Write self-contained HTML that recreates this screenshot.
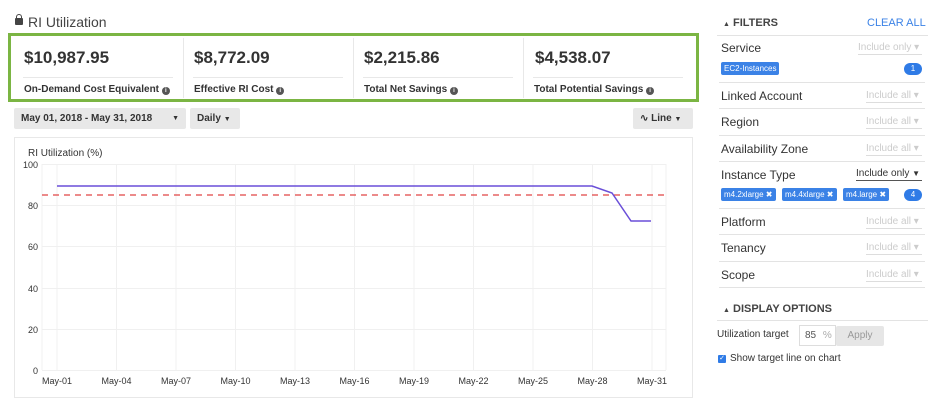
<!DOCTYPE html>
<html><head><meta charset="utf-8"><style>
*{box-sizing:border-box;margin:0;padding:0}
body{width:939px;height:404px;background:#fff;font-family:"Liberation Sans",Arial,sans-serif;color:#333;position:relative;overflow:hidden}
.a{position:absolute;white-space:nowrap}
.big{font-size:17px;font-weight:bold;color:#333}
.lbl{font-size:10px;font-weight:bold;color:#333}
.btn{position:absolute;background:#e8e8e8;border-radius:2px;font-size:10px;font-weight:bold;color:#333;height:21px;line-height:21px;padding:0 7px;white-space:nowrap}
.frow{position:absolute;left:719px;width:206px;border-bottom:1px solid #e3e3e3}
.fl{position:absolute;left:2px;font-size:12px;color:#333;white-space:nowrap}
.fr{position:absolute;right:3px;font-size:10px;color:#ccc;border-bottom:1px solid #ddd;width:56px;padding-bottom:1px;white-space:nowrap}
.tag{position:absolute;background:#3b82e6;color:#fff;font-size:8px;height:13px;line-height:13px;padding:0 3px;border-radius:2px;white-space:nowrap}
.cnt{position:absolute;background:#2f7be6;color:#fff;font-size:8px;width:18px;height:12px;line-height:12px;text-align:center;border-radius:6px}
.inf{display:inline-block;width:8px;height:8px;border-radius:50%;background:#555;color:#fff;font-size:6px;line-height:8px;text-align:center;vertical-align:0px}
</style></head><body>
<div class="a" style="left:15px;top:18px;width:8px;height:7px;background:#444;border-radius:1px"></div>
<div class="a" style="left:16px;top:14px;width:6px;height:6px;border:1.5px solid #444;border-bottom:none;border-radius:3px 3px 0 0"></div>
<div class="a" style="left:28px;top:14px;font-size:14px;color:#444">RI Utilization</div>
<div class="a" style="left:8px;top:33px;width:691px;height:69px;border:3px solid #7bb543"></div>
<div class="a" style="left:183px;top:38px;height:60px;border-left:1px solid #e8e8e8"></div>
<div class="a" style="left:353px;top:38px;height:60px;border-left:1px solid #e8e8e8"></div>
<div class="a" style="left:523px;top:38px;height:60px;border-left:1px solid #e8e8e8"></div>
<div class="a big" style="left:24px;top:48px">$10,987.95</div>
<div class="a big" style="left:194px;top:48px">$8,772.09</div>
<div class="a big" style="left:364px;top:48px">$2,215.86</div>
<div class="a big" style="left:535px;top:48px">$4,538.07</div>
<div class="a" style="left:23px;top:77px;width:150px;border-top:1px solid #e8e8e8"></div>
<div class="a" style="left:193px;top:77px;width:150px;border-top:1px solid #e8e8e8"></div>
<div class="a" style="left:363px;top:77px;width:150px;border-top:1px solid #e8e8e8"></div>
<div class="a" style="left:533px;top:77px;width:150px;border-top:1px solid #e8e8e8"></div>
<div class="a lbl" style="left:24px;top:84px">On-Demand Cost Equivalent <span class="inf">i</span></div>
<div class="a lbl" style="left:194px;top:84px">Effective RI Cost <span class="inf">i</span></div>
<div class="a lbl" style="left:364px;top:84px">Total Net Savings <span class="inf">i</span></div>
<div class="a lbl" style="left:534px;top:84px">Total Potential Savings <span class="inf">i</span></div>
<div class="btn" style="left:14px;top:108px;width:172px">May 01, 2018 - May 31, 2018<span style="position:absolute;right:7px;font-size:7px">&#9660;</span></div>
<div class="btn" style="left:190px;top:108px;width:50px">Daily <span style="font-size:7px">&#9660;</span></div>
<div class="btn" style="left:633px;top:108px;width:60px">&#8767; Line <span style="font-size:7px">&#9660;</span></div>
<div class="a" style="left:14px;top:137px;width:679px;height:261px;border:1px solid #e8e8e8"></div>
<svg class="a" style="left:0;top:0" width="700" height="404">
<g stroke="#f0f0f0" stroke-width="1">
<line x1="42" y1="164.5" x2="666" y2="164.5"/><line x1="42" y1="205.5" x2="666" y2="205.5"/><line x1="42" y1="246.5" x2="666" y2="246.5"/><line x1="42" y1="288.5" x2="666" y2="288.5"/><line x1="42" y1="329.5" x2="666" y2="329.5"/><line x1="42" y1="370.5" x2="666" y2="370.5"/>
<line x1="57" y1="164" x2="57" y2="370"/><line x1="116.5" y1="164" x2="116.5" y2="370"/><line x1="176" y1="164" x2="176" y2="370"/><line x1="235.5" y1="164" x2="235.5" y2="370"/><line x1="295" y1="164" x2="295" y2="370"/><line x1="354.5" y1="164" x2="354.5" y2="370"/><line x1="414" y1="164" x2="414" y2="370"/><line x1="473.5" y1="164" x2="473.5" y2="370"/><line x1="533" y1="164" x2="533" y2="370"/><line x1="592.5" y1="164" x2="592.5" y2="370"/><line x1="652" y1="164" x2="652" y2="370"/>
<line x1="42" y1="164" x2="42" y2="370"/><line x1="666" y1="164" x2="666" y2="370"/>
</g>
<line x1="42" y1="195" x2="666" y2="195" stroke="#e04545" stroke-width="1.2" stroke-dasharray="6,5"/>
<polyline points="57,186 592,186 612,193 631,221 651,221" fill="none" stroke="#6a4fd8" stroke-width="1.5"/>
<g font-size="9" fill="#333" font-family="Liberation Sans,sans-serif">
<text x="28" y="156" font-size="10">RI Utilization (%)</text>
<g text-anchor="end"><text x="38" y="168">100</text><text x="38" y="209">80</text><text x="38" y="250">60</text><text x="38" y="292">40</text><text x="38" y="333">20</text><text x="38" y="374">0</text></g>
<g text-anchor="middle"><text x="57" y="384">May-01</text><text x="116.5" y="384">May-04</text><text x="176" y="384">May-07</text><text x="235.5" y="384">May-10</text><text x="295" y="384">May-13</text><text x="354.5" y="384">May-16</text><text x="414" y="384">May-19</text><text x="473.5" y="384">May-22</text><text x="533" y="384">May-25</text><text x="592.5" y="384">May-28</text><text x="652" y="384">May-31</text></g>
</g>
</svg>
<div class="a" style="left:723px;top:17px;font-size:11px;font-weight:bold;color:#444"><span style="font-size:7px">&#9650;</span> FILTERS</div>
<div class="a" style="left:867px;top:17px;font-size:11px;color:#3b82e6">CLEAR ALL</div>
<div class="a" style="left:717px;top:35px;width:211px;border-top:1px solid #e3e3e3"></div>
<div class="frow" style="top:35px;height:48px"><div class="fl" style="top:6px">Service</div><div class="fr" style="top:7px;width:64px">Include only &#9662;</div><div class="tag" style="left:2px;top:27px">EC2-Instances</div><div class="cnt" style="right:3px;top:28px">1</div></div>
<div class="frow" style="top:83px;height:26px"><div class="fl" style="top:6px">Linked Account</div><div class="fr" style="top:7px">Include all &#9662;</div></div>
<div class="frow" style="top:109px;height:27px"><div class="fl" style="top:6px">Region</div><div class="fr" style="top:7px">Include all &#9662;</div></div>
<div class="frow" style="top:136px;height:26px"><div class="fl" style="top:6px">Availability Zone</div><div class="fr" style="top:7px">Include all &#9662;</div></div>
<div class="frow" style="top:162px;height:47px"><div class="fl" style="top:6px">Instance Type</div><div class="fr" style="top:6px;color:#333;border-bottom-color:#555;width:66px;font-size:10px">Include only <span style="font-size:8px">&#9660;</span></div>
<div class="tag" style="left:2px;top:26px">m4.2xlarge &#10006;</div><div class="tag" style="left:63px;top:26px">m4.4xlarge &#10006;</div><div class="tag" style="left:124px;top:26px">m4.large &#10006;</div><div class="cnt" style="right:3px;top:27px">4</div></div>
<div class="frow" style="top:209px;height:26px"><div class="fl" style="top:6px">Platform</div><div class="fr" style="top:7px">Include all &#9662;</div></div>
<div class="frow" style="top:235px;height:27px"><div class="fl" style="top:6px">Tenancy</div><div class="fr" style="top:7px">Include all &#9662;</div></div>
<div class="frow" style="top:262px;height:26px"><div class="fl" style="top:6px">Scope</div><div class="fr" style="top:7px">Include all &#9662;</div></div>
<div class="a" style="left:723px;top:303px;font-size:11px;font-weight:bold;color:#444"><span style="font-size:7px">&#9650;</span> DISPLAY OPTIONS</div>
<div class="a" style="left:717px;top:320px;width:211px;border-top:1px solid #e3e3e3"></div>
<div class="a" style="left:717px;top:329px;font-size:10px;color:#333">Utilization target</div>
<div class="a" style="left:799px;top:325px;width:37px;height:21px;border:1px solid #ddd;font-size:10px;line-height:19px;padding-left:5px;color:#555">85 <span style="color:#aaa;margin-left:4px">%</span></div>
<div class="a" style="left:836px;top:326px;width:48px;height:20px;background:#e6e6e6;border-radius:2px;font-size:10px;line-height:20px;text-align:center;color:#999">Apply</div>
<div class="a" style="left:718px;top:355px;width:8px;height:8px;background:#2f7be6;border-radius:1px;color:#fff;font-size:7px;line-height:8px;text-align:center">&#10003;</div>
<div class="a" style="left:730px;top:353px;font-size:10px;color:#333">Show target line on chart</div>
</body></html>
